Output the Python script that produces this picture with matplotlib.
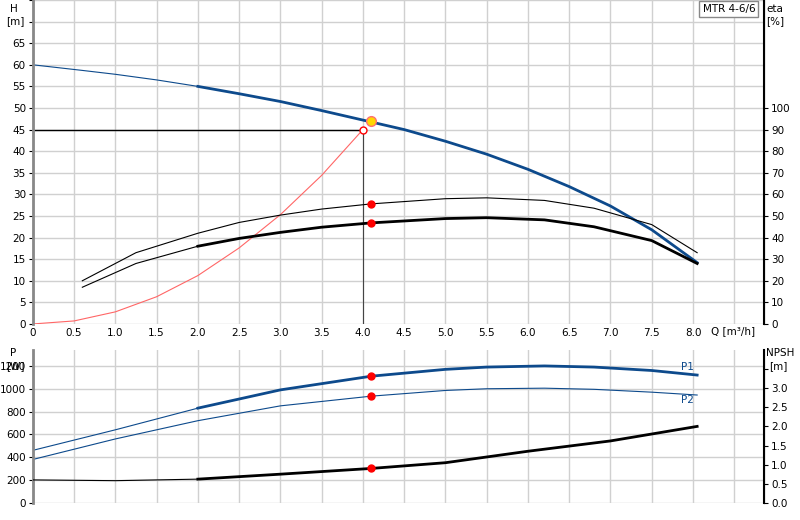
import matplotlib
matplotlib.use("Agg")
import matplotlib.pyplot as plt

q_h = [0, 0.6, 1, 1.5, 2, 2.5, 3, 3.5, 4, 4.5, 5, 5.5, 6, 6.5, 7, 7.5, 8.05]
h = [60, 58.7, 57.8, 56.5, 55, 53.3, 51.5, 49.4, 47.2, 45, 42.3, 39.3, 35.8, 31.8, 27.3, 21.8, 14.2]
q_e = [0.6, 1.25, 2, 2.5, 3, 3.5, 4.1, 5, 5.5, 6.2, 6.8, 7.5, 8.05]
eta_hi = [20, 33, 42, 47, 50.4, 53.2, 55.6, 58, 58.4, 57.2, 53.6, 46, 33]
eta_lo = [17, 28, 36, 39.6, 42.4, 44.8, 46.8, 48.8, 49.2, 48.2, 45, 38.6, 28]
q_sys = [0, 0.5, 1, 1.5, 2, 2.5, 3, 3.5, 4]
h_sys = [0, 0.7, 2.8, 6.3, 11.2, 17.6, 25.3, 34.4, 45]
q_p = [0, 1, 2, 3, 4.1, 5, 5.5, 6.2, 6.8, 7.5, 8.05]
p1 = [460, 640, 830, 990, 1110, 1170, 1190, 1200, 1190, 1160, 1120]
p2 = [380, 560, 720, 850, 935, 985, 1000, 1005, 995, 970, 945]
q_n = [0, 1, 2, 3, 4.1, 5, 6, 7, 8.05]
npsh = [0.6, 0.58, 0.62, 0.75, 0.9, 1.05, 1.35, 1.62, 2.0]
duty_q, duty_h = 4.1, 47
req_q, req_h = 4.0, 45

blue = "#0d4a8c"
grid = "#d0d0d0"
fig = plt.figure(figsize=(8, 5.2), dpi=100)
ax = fig.add_axes([0.041, 0.377, 0.914, 0.623])
ax2 = ax.twinx()
bx = fig.add_axes([0.041, 0.033, 0.914, 0.294])
bx2 = bx.twinx()

def split(xs, ys, x0=2):
    a = [(x, y) for x, y in zip(xs, ys) if x <= x0]
    b = [(x, y) for x, y in zip(xs, ys) if x >= x0]
    return list(zip(*a)), list(zip(*b))

for a in (ax, bx):
    a.set_xlim(0, 8.86)
    a.set_xticks([i * 0.5 for i in range(18)])
    a.grid(True, color=grid, lw=1)
    a.set_axisbelow(True)
    a.tick_params(labelsize=7.5, length=3, pad=2)
    for s in ("top", "bottom"):
        a.spines[s].set_visible(False)
    a.spines["left"].set_color("#888888"); a.spines["left"].set_linewidth(2)
for a in (ax2, bx2):
    for s in ("top", "bottom", "left"):
        a.spines[s].set_visible(False)
    a.spines["right"].set_linewidth(1.5)
    a.tick_params(labelsize=7.5, length=3, pad=2)

ax.set_ylim(0, 75)
ax.set_yticks(range(0, 80, 5))
ax.set_yticklabels([str(v) if v <= 65 else "" for v in range(0, 80, 5)])
ax2.set_ylim(0, 150)
ax2.set_yticks(range(0, 110, 10))
ax.set_xticklabels(["0"] + [f"{i*0.5:.1f}" for i in range(1, 17)] + [""])
ax.tick_params(axis="x", length=0, pad=3)

(a1, a2) = split(q_h, h)
ax.plot(*a1, color=blue, lw=0.8)
ax.plot(*a2, color=blue, lw=2)
ax2.plot(q_e, eta_hi, color="black", lw=0.8)
(c1, c2) = split(q_e, eta_lo)
ax2.plot(*c1, color="black", lw=0.8)
ax2.plot(*c2, color="black", lw=2)
ax.plot(q_sys, h_sys, color="#ff6666", lw=0.8)
ax.plot([0, req_q], [req_h, req_h], color="black", lw=1)
ax.plot([req_q, req_q], [0, req_h], color="#444444", lw=0.8)
ax.plot(req_q, req_h, "o", mfc="white", mec="red", ms=5)
ax.plot(duty_q, duty_h, "o", mfc="#ffd700", mec="#ff7070", ms=7, zorder=5)
ax2.plot([4.1, 4.1], [eta_hi[6], eta_lo[6]], "o", color="red", ms=5, lw=0)

ax.text(8.22, -0.5, "Q [m³/h]", fontsize=7.5, va="top")
fig.text(0.012, 0.993, "H", fontsize=7.5, va="top")
fig.text(0.008, 0.97, "[m]", fontsize=7.5, va="top")
fig.text(0.958, 0.993, "eta", fontsize=7.5, va="top")
fig.text(0.958, 0.97, "[%]", fontsize=7.5, va="top")
fig.text(0.944, 0.982, "MTR 4-6/6", fontsize=7.5, va="center", ha="right",
         bbox=dict(boxstyle="square,pad=0.3", fc="white", ec="#888888"))

bx.set_ylim(0, 1340)
bx.set_yticks(range(0, 1400, 200))
bx.set_yticklabels([str(v) if v <= 1200 else "" for v in range(0, 1400, 200)])
bx.set_xticklabels([])
bx.tick_params(axis="x", length=0)
bx2.set_ylim(0, 4.0)
bx2.set_yticks([i * 0.5 for i in range(8)])
bx2.set_yticklabels([f"{i*0.5:.1f}" if i <= 6 else "" for i in range(8)])
(d1, d2) = split(q_p, p1)
bx.plot(*d1, color=blue, lw=0.8)
bx.plot(*d2, color=blue, lw=2)
bx.plot(q_p, p2, color=blue, lw=0.8)
(e1, e2) = split(q_n, npsh)
bx2.plot(*e1, color="black", lw=0.8)
bx2.plot(*e2, color="black", lw=2)
bx.plot([4.1, 4.1], [p1[4], p2[4]], "o", color="red", ms=5, lw=0)
bx2.plot(4.1, npsh[4], "o", color="red", ms=5)
bx.text(7.85, p1[-1] + 40, "P1", fontsize=7.5, color=blue)
bx.text(7.85, p2[-1] - 70, "P2", fontsize=7.5, color=blue)
fig.text(0.012, 0.33, "P", fontsize=7.5, va="top")
fig.text(0.008, 0.305, "[W]", fontsize=7.5, va="top")
fig.text(0.958, 0.33, "NPSH", fontsize=7.5, va="top")
fig.text(0.962, 0.305, "[m]", fontsize=7.5, va="top")

fig.savefig("out.png", dpi=100)
